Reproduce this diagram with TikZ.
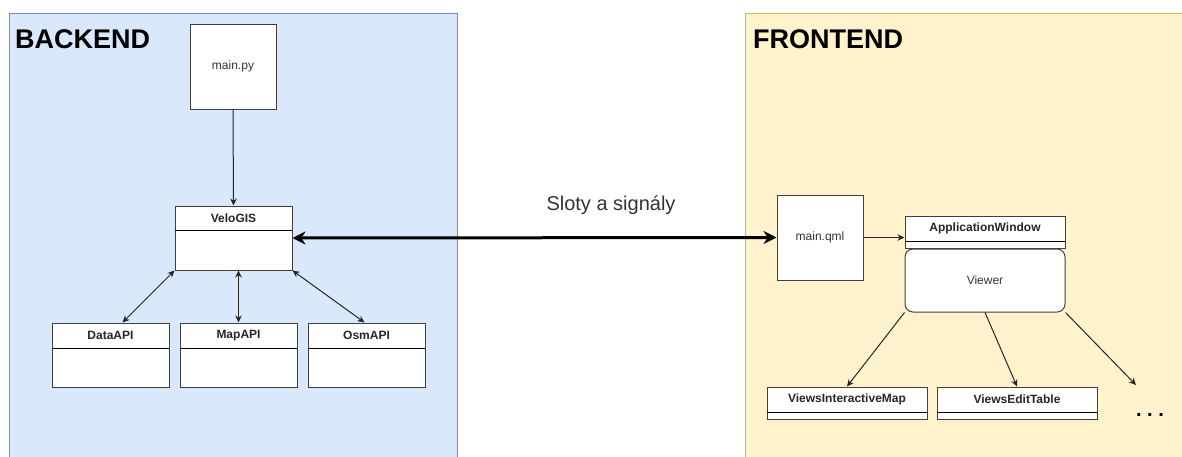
\documentclass[tikz,border=0pt]{standalone}
\usepackage{fontspec}
\setmainfont{Liberation Sans}
\usetikzlibrary{arrows.meta}
\definecolor{backfill}{HTML}{DAE8FC}
\definecolor{backline}{HTML}{6C8EBF}
\definecolor{frontfill}{HTML}{FFF2CC}
\definecolor{frontline}{HTML}{D6B656}
\definecolor{labelgray}{HTML}{333333}
\tikzset{
  box/.style       = {draw=black!75, fill=white, line width=1pt, inner sep=0pt},
  filebox/.style   = {box, minimum width=86pt, minimum height=85pt, text=labelgray, font=\fontsize{12}{14}\selectfont},
  classbox/.style  = {box, minimum width=117pt, minimum height=64pt},
  widebox/.style   = {box, minimum width=160pt, minimum height=32pt},
  headtext/.style  = {font=\bfseries\fontsize{12}{14}\selectfont, text=black!85},
  title/.style     = {font=\bfseries\fontsize{27}{32}\selectfont, anchor=west, inner sep=0pt},
  link/.style      = {line width=1pt, draw=black!85, -{Stealth[length=7pt,width=6.5pt]}},
  duallink/.style  = {link, {Stealth[length=7pt,width=6.5pt]}-{Stealth[length=7pt,width=6.5pt]}},
  biglink/.style   = {line width=3pt, {Stealth[length=13pt,width=13pt]}-{Stealth[length=13pt,width=13pt]}}
}
\begin{document}
\begin{tikzpicture}[x=1pt, y=-1pt]
  \useasboundingbox (0,0) rectangle (1182,456);
  \clip (0,0) rectangle (1182,456);
  % panels
  \draw[fill=backfill, draw=backline] (9,13) rectangle (457,470);
  \draw[fill=frontfill, draw=frontline] (745,13) rectangle (1195,470);
  \node[title] (backend)  at (15,39) {BACKEND};
  \node[title] (frontend) at (753,39) {FRONTEND};

  % backend
  \node[filebox]  (mainpy)  at (233,66.5) {main.py};
  \node[classbox] (velogis) at (233.5,238) {};
  \node[headtext] at (233.5,218) {VeloGIS};
  \draw[line width=1pt] (175,230) -- (292,230);

  \node[classbox] (dataapi) at (110.5,355) {};
  \node[headtext] at (110.5,335.5) {DataAPI};
  \draw[line width=1pt] (52,348) -- (169,348);
  \node[classbox] (mapapi)  at (238.5,355) {};
  \node[headtext] at (238.5,335.5) {MapAPI};
  \draw[line width=1pt] (180,348) -- (297,348);
  \node[classbox] (osmapi)  at (366.5,355) {};
  \node[headtext] at (366.5,335.5) {OsmAPI};
  \draw[line width=1pt] (308,348) -- (425,348);

  \draw[link] (mainpy.south) -- (velogis.north);
  \draw[duallink] (velogis.south west) -- ([xshift=12pt]dataapi.north);
  \draw[duallink] (mapapi.north |- velogis.south) -- (mapapi.north);
  \draw[duallink] (velogis.south east) -- ([xshift=-2pt]osmapi.north);

  % frontend
  \node[filebox] (mainqml) at (820,237.5) {main.qml};
  \node[widebox] (appwin) at (985,232) {};
  \node[headtext] at (985,228.5) {ApplicationWindow};
  \draw[line width=1pt] (905,241) -- (1065,241);
  \node[box, rounded corners=8pt, minimum width=160pt, minimum height=63pt,
        text=labelgray, font=\fontsize{12}{14}\selectfont] (viewer) at (985,280.5) {Viewer};

  \node[widebox] (interactive) at (847,403) {};
  \node[headtext] at (847,399.5) {ViewsInteractiveMap};
  \draw[line width=1pt] (767,412) -- (927,412);
  \node[widebox] (edittable) at (1017,403) {};
  \node[headtext] at (1017,399.5) {ViewsEditTable};
  \draw[line width=1pt] (937,412) -- (1097,412);
  \coordinate (more) at (1136,385);
  \node[font=\bfseries\fontsize{20}{24}\selectfont, anchor=base] (dots) at (1150,416) {.\ .\ .};

  \draw[link] (mainqml.east) -- (appwin.west |- mainqml.east);
  \draw[link] (viewer.south west) -- (interactive.north);
  \draw[link] (viewer.south) -- (edittable.north);
  \draw[link] (viewer.south east) -- (more);

  % signals
  \node[font=\fontsize{20}{24}\selectfont, text=labelgray] (signals) at (611,205) {Sloty a signály};
  \draw[biglink] (velogis.east) -- (mainqml.west);
\end{tikzpicture}
\end{document}
